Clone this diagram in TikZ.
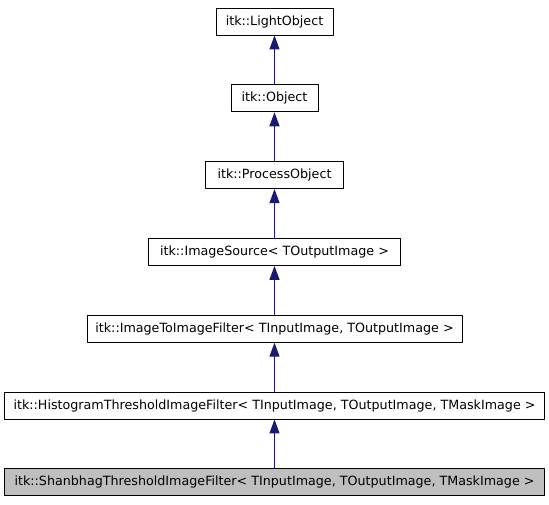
\documentclass[tikz,border=0pt]{standalone}
\usepackage{fontspec}
\setmainfont{DejaVu Sans}
\usepackage{tikz}
\usepackage{xcolor}
\usetikzlibrary{arrows.meta,positioning}

\definecolor{inhblue}{HTML}{191970}
\definecolor{curgray}{HTML}{BFBFBF}

\begin{document}
\begin{tikzpicture}[
		x=1pt,
		y=-1pt,
		line cap=round,
		line join=round,
		cls/.style={
			draw=black,
			line width=0.9pt,
			fill=white,
			minimum height=27pt,
			inner sep=0pt,
			font=\fontsize{12.7}{14}\selectfont
		},
		current/.style={
			cls,
			fill=curgray
		},
		inherit/.style={
			draw=inhblue,
			line width=1pt,
			-{Triangle[length=14pt,width=10pt,fill=inhblue]}
		}
		]
		
		% canvas
		\useasboundingbox (0,0) rectangle (549,504);
		
		% class boxes
		\node[cls, minimum width=117pt] (light)  at (274.5, 21.5) {itk::LightObject};
		\node[cls, minimum width=87pt]  (object) at (274.5, 98.3) {itk::Object};
		\node[cls, minimum width=138pt] (proc)   at (274.5,175.1) {itk::ProcessObject};
		\node[cls, minimum width=252pt] (src)    at (274.5,251.9) {itk::ImageSource< TOutputImage >};
		\node[cls, minimum width=375pt] (i2i)    at (274.5,328.7) {itk::ImageToImageFilter< TInputImage, TOutputImage >};
		\node[cls, minimum width=540pt] (hist)   at (274.5,405.5) {itk::HistogramThresholdImageFilter< TInputImage, TOutputImage, TMaskImage >};
		\node[current, minimum width=540pt] (shan) at (274.5,482.3) {itk::ShanbhagThresholdImageFilter< TInputImage, TOutputImage, TMaskImage >};
		
		% inheritance
		\draw[inherit] (object) -- (light);
		\draw[inherit] (proc)   -- (object);
		\draw[inherit] (src)    -- (proc);
		\draw[inherit] (i2i)    -- (src);
		\draw[inherit] (hist)   -- (i2i);
		\draw[inherit] (shan)   -- (hist);
\end{tikzpicture}
\end{document}
